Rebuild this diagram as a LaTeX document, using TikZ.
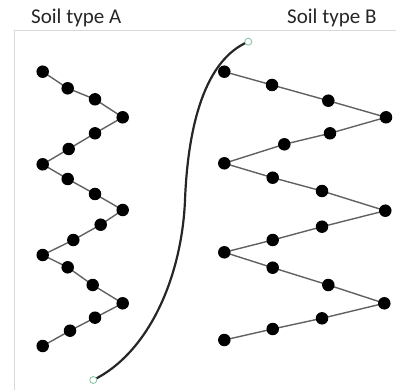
\documentclass[tikz,border=0pt]{standalone}
\usepackage{fontspec}
\setmainfont{Carlito}
\definecolor{framegray}{rgb}{0.85,0.85,0.85}
\definecolor{linkgray}{rgb}{0.38,0.38,0.38}
\definecolor{endgreen}{rgb}{0.55,0.78,0.66}
\begin{document}
\begin{tikzpicture}[x=1pt,y=-1pt,
  dot/.style={circle,fill=black,inner sep=0pt,minimum size=12.5pt},
  endpt/.style={circle,draw=endgreen,fill=white,line width=0.9pt,inner sep=0pt,minimum size=7pt},
  link/.style={draw=linkgray,line width=1.4pt},
  rope/.style={draw=black!85,line width=2.2pt},
  lab/.style={anchor=base west,font=\fontsize{21}{23}\selectfont,inner sep=0pt,text=black!85}]
\useasboundingbox (0,0) rectangle (396,390);
\draw[framegray,line width=1pt] (14,390) -- (14,31) -- (396,31);
\node[lab] (la) at (31,24) {Soil type A};
\node[lab] (lb) at (287,24) {Soil type B};
% chain A
\foreach \i/\x/\y in {1/42.7/71.7,2/67.7/88.3,3/95/99.3,4/122.7/117.3,5/95/133.3,6/68.7/149,7/42.7/164.3,8/67.7/179,9/95/194,10/122.7/210,11/100.7/224.7,12/73.3/240,13/42.7/255,14/67.7/267.3,15/92.7/285,16/122.7/303.3,17/95/317.7,18/70/330.7,19/42.7/346}
  \coordinate (a\i) at (\x,\y);
\foreach \i/\x/\y in {1/224.3/71.7,2/272/85,3/328.3/100.7,4/386/117.3,5/330/133.3,6/284.3/144.3,7/224.3/163.3,8/272.7/177.7,9/322/191,10/385.3/210.7,11/322/226.7,12/272.7/240,13/224.3/252.3,14/272.7/267.7,15/328.3/285,16/384.3/303.3,17/322/318.3,18/272.7/329,19/224.3/340}
  \coordinate (b\i) at (\x,\y);
\draw[link] (a1)--(a2)--(a3)--(a4)--(a5)--(a6)--(a7)--(a8)--(a9)--(a10)--(a11)--(a12)--(a13)--(a14)--(a15)--(a16)--(a17)--(a18)--(a19);
\draw[link] (b1)--(b2)--(b3)--(b4)--(b5)--(b6)--(b7)--(b8)--(b9)--(b10)--(b11)--(b12)--(b13)--(b14)--(b15)--(b16)--(b17)--(b18)--(b19);
\foreach \i in {1,...,19} {\node[dot] (A\i) at (a\i) {}; \node[dot] (B\i) at (b\i) {};}
% rope
\coordinate (r0) at (93.3,380);
\coordinate (rm) at (185,200);
\coordinate (r1) at (248.3,41.7);
\draw[rope] (r0) .. controls (150,352) and (182,275) .. (rm) .. controls (188,125) and (205,60) .. (r1);
\node[endpt] (e0) at (r0) {};
\node[endpt] (e1) at (r1) {};
\end{tikzpicture}
\end{document}
